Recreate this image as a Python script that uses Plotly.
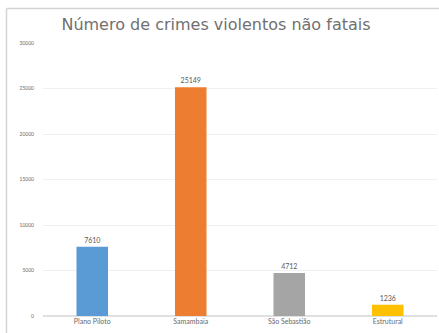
import plotly.graph_objects as go

# Non-fatal violent crimes by administrative region
regions = ["Plano Piloto", "Samambaia", "São Sebastião", "Estrutural"]
crimes = [7610, 25149, 4712, 1236]
bar_colors = ["#5B9BD5", "#ED7D31", "#A5A5A5", "#FFC000"]
y_ticks = [0, 5000, 10000, 15000, 20000, 25000, 30000]

font_family = "Lato, Open Sans, sans-serif"

W, H = 439, 333
ML, MR, MT, MB = 43, 2, 43, 17
plot_w = W - ML - MR
plot_h = H - MT - MB

fig = go.Figure(
    go.Bar(
        x=regions,
        y=crimes,
        marker=dict(color=bar_colors, line=dict(width=0)),
        width=0.32,
        text=[str(v) for v in crimes],
        textposition="outside",
        textfont=dict(size=7, color="#595959", family=font_family),
        cliponaxis=False,
    )
)

fig.update_layout(
    width=W,
    height=H,
    margin=dict(l=ML, r=MR, t=MT, b=MB),
    paper_bgcolor="white",
    plot_bgcolor="white",
    showlegend=False,
    title=dict(
        text="Número de crimes violentos não fatais",
        x=0.492,
        xanchor="center",
        y=0.927,
        yanchor="middle",
        font=dict(size=16, color="#707070", family="DejaVu Sans, sans-serif"),
    ),
    font=dict(family=font_family, color="#595959"),
)

fig.update_xaxes(
    showline=False,
    showgrid=False,
    ticks="",
    tickfont=dict(size=7, color="#6A6A6A"),
)

fig.update_yaxes(
    range=[0, 30000],
    tickvals=y_ticks,
    ticktext=[str(v) for v in y_ticks],
    tickfont=dict(size=5, color="#6A6A6A"),
    showgrid=True,
    gridcolor="#F0F0F0",
    gridwidth=1,
    zeroline=True,
    zerolinecolor="#E0E0E0",
    showline=False,
    ticks="",
    ticklabelstandoff=8,
)

# Light frame edges around the chart area (left and top)
frame_left = (6.5 - ML) / plot_w
frame_top = (H - MB - 8.5) / plot_h
frame_style = dict(color="#D4D4D4", width=1.5)
fig.add_shape(type="line", xref="paper", yref="paper",
              x0=frame_left, x1=frame_left, y0=-(MB + 5) / plot_h, y1=frame_top,
              line=frame_style, layer="below")
fig.add_shape(type="line", xref="paper", yref="paper",
              x0=frame_left, x1=(W + 5 - ML) / plot_w, y0=frame_top, y1=frame_top,
              line=frame_style, layer="below")

fig.write_html("out.html")
